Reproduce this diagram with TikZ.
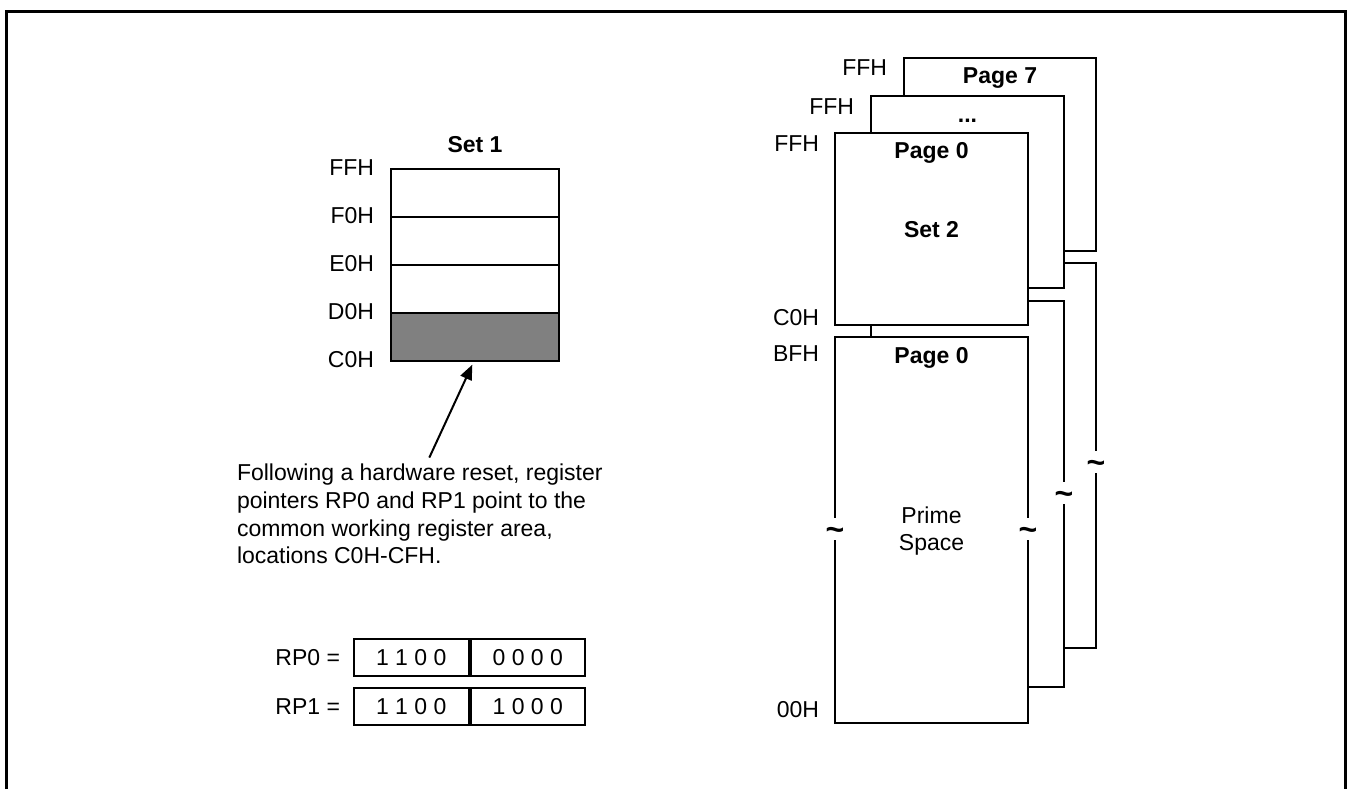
\documentclass[tikz,border=0pt]{standalone}
\usepackage{fontspec}
\setmainfont{Liberation Sans}
\usetikzlibrary{arrows.meta,positioning}
\begin{document}
\begin{tikzpicture}[x=0.5pt,y=-0.5pt,line width=1pt,
        every node/.style={inner sep=0pt,font=\fontsize{11.5}{13.85}\selectfont},
        ttl/.style={anchor=base,font=\fontsize{11.5}{13.85}\selectfont\bfseries},
        hex/.style={anchor=east},
        cell/.style={draw,minimum width=57.25pt,minimum height=18.5pt},
        brk/.style={fill=white,minimum height=11pt,minimum width=5pt,font=\fontsize{16}{16}\selectfont\bfseries},
        ptr/.style={-{Triangle[length=7.5pt,width=6pt]},shorten <=3pt,shorten >=2pt}]
    \useasboundingbox (0,0) rectangle (1352,789);
    \draw[line width=1.5pt] (6,789) |- (1345,11) -- (1345,789);

    % set 1
    \node[ttl] (set1) at (475,152) {Set 1};
    \draw (391,169) rectangle (559,361);
    \filldraw[fill=gray] (391,313) rectangle (559,361);
    \draw (391,217) -- (559,217) (391,265) -- (559,265);
    \node[hex] (ffh) at (375,168) {FFH};
    \node[hex] (f0h) at (375,216) {F0H};
    \node[hex] (e0h) at (375,264) {E0H};
    \node[hex] (d0h) at (375,312) {D0H};
    \node[hex] (c0h) at (375,360) {C0H};
    \coordinate (cwr) at (474,361);

    \node[anchor=north west,align=left] (note) at (236,463)
        {Following a hardware reset, register\\pointers RP0 and RP1 point to the\\common working register area,\\locations C0H-CFH.};
    \draw[ptr] ([xshift=3.5pt]note.north) -- (cwr);

    % register pointers
    \node[cell] (rp0h) at (411.25,657.5) {1 1 0 0};
    \node[cell,right=0pt of rp0h] (rp0l) {0 0 0 0};
    \node[left=6pt of rp0h] (rp0) {RP0 =};
    \node[cell,below=5pt of rp0h] (rp1h) {1 1 0 0};
    \node[cell,right=0pt of rp1h] (rp1l) {1 0 0 0};
    \node[left=6pt of rp1h] (rp1) {RP1 =};

    % page stack
    \draw (904,96) -- (904,58) -- (1096,58) -- (1096,251) -- (1064,251);
    \draw (1064,263) -- (1096,263) -- (1096,648) -- (1064,648);
    \draw (871,133) -- (871,96) -- (1064,96) -- (1064,288) -- (1028,288);
    \draw (1028,301) -- (1064,301) -- (1064,687) -- (1028,687);
    \draw (871,325) -- (871,337);
    \draw (835,133) rectangle (1028,325);
    \draw (835,337) rectangle (1028,723);
    \node[brk] (cut1) at (835,529) {\smash{\raisebox{-0.345em}{\textasciitilde}}};
    \node[brk] (cut2) at (1028,529) {\smash{\raisebox{-0.345em}{\textasciitilde}}};
    \node[brk] (cut3) at (1064,493) {\smash{\raisebox{-0.345em}{\textasciitilde}}};
    \node[brk] (cut4) at (1096,462) {\smash{\raisebox{-0.345em}{\textasciitilde}}};

    \node[hex] (ffh7) at (888,68) {FFH};
    \node[hex] (ffhx) at (855,107) {FFH};
    \node[hex] (ffh0) at (820,144) {FFH};
    \node[hex] (c0h0) at (820,318) {C0H};
    \node[hex] (bfh0) at (820,354) {BFH};
    \node[hex] (zzh0) at (820,710) {00H};

    \node[ttl] (page7) at (1000,83) {Page 7};
    \node[ttl] (pagex) at (967.5,122) {...};
    \node[ttl] (page0a) at (931.5,158) {Page 0};
    \node[ttl] (set2) at (931.5,237) {Set 2};
    \node[ttl] (page0b) at (931.5,363) {Page 0};
    \node[align=center] (prime) at (931.5,531) {Prime\\Space};
\end{tikzpicture}
\end{document}
